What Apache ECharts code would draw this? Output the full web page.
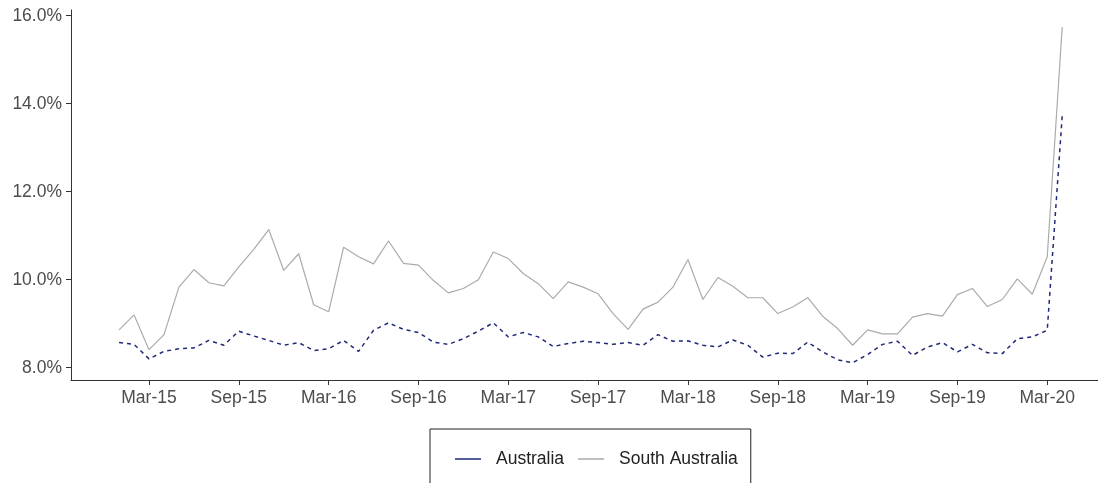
<!DOCTYPE html>
<html>
<head>
<meta charset="utf-8">
<script src="https://cdn.jsdelivr.net/npm/echarts@6/dist/echarts.min.js"></script>
<style>
  html, body { margin: 0; padding: 0; background: #fff; }
  #chart { width: 1098px; height: 483px; }
</style>
</head>
<body>
<div id="chart"></div>
<script>
// months, Jan-15 .. Apr-20
const months = [
  'Jan-15','Feb-15','Mar-15','Apr-15','May-15','Jun-15','Jul-15','Aug-15','Sep-15','Oct-15','Nov-15','Dec-15',
  'Jan-16','Feb-16','Mar-16','Apr-16','May-16','Jun-16','Jul-16','Aug-16','Sep-16','Oct-16','Nov-16','Dec-16',
  'Jan-17','Feb-17','Mar-17','Apr-17','May-17','Jun-17','Jul-17','Aug-17','Sep-17','Oct-17','Nov-17','Dec-17',
  'Jan-18','Feb-18','Mar-18','Apr-18','May-18','Jun-18','Jul-18','Aug-18','Sep-18','Oct-18','Nov-18','Dec-18',
  'Jan-19','Feb-19','Mar-19','Apr-19','May-19','Jun-19','Jul-19','Aug-19','Sep-19','Oct-19','Nov-19','Dec-19',
  'Jan-20','Feb-20','Mar-20','Apr-20'
]
// Australia (%)
const australia = [
  8.57, 8.53, 8.20, 8.37, 8.43, 8.45, 8.62, 8.51, 8.83, 8.72, 8.62, 8.51,
  8.57, 8.39, 8.43, 8.62, 8.37, 8.85, 9.02, 8.87, 8.80, 8.58, 8.53, 8.66,
  8.83, 9.02, 8.70, 8.80, 8.70, 8.48, 8.55, 8.60, 8.57, 8.53, 8.57, 8.51,
  8.75, 8.60, 8.61, 8.51, 8.47, 8.63, 8.51, 8.24, 8.33, 8.32, 8.58, 8.36,
  8.18, 8.11, 8.30, 8.53, 8.60, 8.28, 8.47, 8.57, 8.36, 8.53, 8.34, 8.32,
  8.66, 8.70, 8.85, 13.73
]
// South Australia (%)
const southAustralia = [
  8.86, 9.20, 8.41, 8.75, 9.83, 10.23, 9.93, 9.86, 10.29, 10.69, 11.14, 10.21,
  10.59, 9.43, 9.27, 10.74, 10.52, 10.36, 10.88, 10.37, 10.33, 9.98, 9.70, 9.80,
  10.00, 10.63, 10.48, 10.14, 9.91, 9.57, 9.95, 9.83, 9.68, 9.23, 8.87, 9.33,
  9.49, 9.83, 10.46, 9.55, 10.05, 9.85, 9.59, 9.59, 9.23, 9.38, 9.59, 9.17,
  8.89, 8.51, 8.86, 8.77, 8.77, 9.15, 9.23, 9.17, 9.66, 9.80, 9.39, 9.55,
  10.02, 9.67, 10.52, 15.74
]
// x tick labels
const xTickLabels = ['Mar-15','Sep-15','Mar-16','Sep-16','Mar-17','Sep-17','Mar-18','Sep-18','Mar-19','Sep-19','Mar-20']
// y tick labels
const yTicks = [8, 10, 12, 14, 16]

const font = '"Liberation Sans", Arial, sans-serif'
const fs = 17.5
const xTickIdx = xTickLabels.map(l => months.indexOf(l))

const chart = echarts.init(document.getElementById('chart'))
chart.setOption({
  animation: false,
  grid: { left: 71, top: 10, right: 0, bottom: 103 },
  xAxis: {
    type: 'value',
    min: -3.21,
    max: 65.39,
    splitLine: { show: false },
    axisLine: { show: true, onZero: false, lineStyle: { color: '#333', width: 1 } },
    axisTick: { show: true, length: 5, customValues: xTickIdx, lineStyle: { color: '#333' } },
    axisLabel: {
      customValues: xTickIdx,
      margin: 9,
      color: '#4d4d4d',
      fontSize: fs,
      fontFamily: font,
      formatter: v => months[Math.round(v)]
    }
  },
  yAxis: {
    type: 'value',
    min: 7.72,
    max: 16.13,
    splitLine: { show: false },
    axisLine: { show: true, onZero: false, lineStyle: { color: '#333', width: 1 } },
    axisTick: { show: true, length: 5, customValues: yTicks, lineStyle: { color: '#333' } },
    axisLabel: {
      customValues: yTicks,
      margin: 9,
      color: '#4d4d4d',
      fontSize: fs,
      fontFamily: font,
      formatter: v => v.toFixed(1) + '%'
    }
  },
  legend: {
    left: 430,
    top: 429,
    orient: 'horizontal',
    borderColor: '#222',
    borderWidth: 1,
    padding: [21, 13, 40, 25],
    icon: 'rect',
    itemWidth: 26,
    itemHeight: 1.5,
    itemGap: 14,
    textStyle: { fontSize: fs, fontFamily: font, color: '#222', padding: [0, 0, 0, 10] },
    data: ['Australia', 'South Australia']
  },
  series: [
    {
      name: 'Australia',
      type: 'line',
      symbol: 'none',
      data: australia.map((v, i) => [i, v]),
      lineStyle: { color: '#1f2a78', width: 1.5, type: [4, 4] },
      itemStyle: { color: '#1f2a78' },
      z: 3
    },
    {
      name: 'South Australia',
      type: 'line',
      symbol: 'none',
      data: southAustralia.map((v, i) => [i, v]),
      lineStyle: { color: '#ababab', width: 1.2 },
      itemStyle: { color: '#ababab' },
      z: 2
    }
  ]
})
</script>
</body>
</html>
